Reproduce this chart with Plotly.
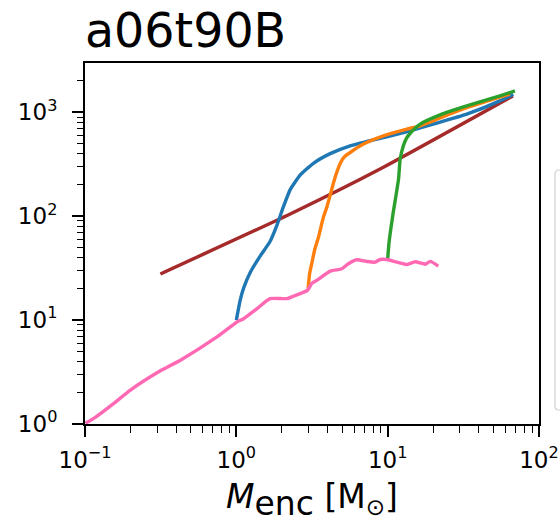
import plotly.graph_objects as go

# ---- data ----
red_x = [0.315, 2.27, 8.91, 67.3]
red_y = [27.8, 105, 284, 1437]

blue_x = [1.00, 1.06, 1.12, 1.24, 1.44, 1.67, 1.85, 2.05, 2.27, 2.64, 3.23, 4.17, 5.65, 7.28, 9.87, 14.1, 20.0, 33.3, 55.2, 67.6]
blue_y = [10.0, 15.5, 20.5, 29.0, 41.5, 57.0, 81.0, 124, 180, 248, 323, 400, 476, 523, 581, 663, 769, 959, 1286, 1492]

orange_x = [2.98, 3.05, 3.15, 3.30, 3.49, 3.76, 3.96, 4.15, 4.35, 4.55, 4.85, 5.15, 5.65, 6.92, 9.37, 13.4, 16.4, 31.5, 64.3]
orange_y = [20.1, 28, 35, 48, 62.7, 97.6, 122, 155, 200, 250, 320, 370, 410, 494, 593, 689, 741, 1079, 1502]

green_x = [10.0, 10.2, 10.5, 10.9, 11.2, 11.8, 12.1, 12.7, 13.3, 14.1, 16.4, 22.2, 33.3, 55.2, 69.3]
green_y = [38.5, 55, 76, 110, 140, 228, 355, 475, 560, 628, 769, 944, 1152, 1437, 1604]

pink_x = [0.1006, 0.117, 0.155, 0.1995, 0.315, 0.427, 0.745, 1.01, 1.116, 1.37, 1.67, 2.16, 2.64, 2.95, 3.15, 3.40,
          4.17, 4.98, 5.50, 6.25, 7.28, 8.26, 8.91, 9.87, 11.5, 13.4, 15.2, 17.7, 19.1, 21.6]
pink_y = [1.016, 1.16, 1.58, 2.12, 3.25, 4.11, 6.88, 9.59, 10.3, 12.9, 16.1, 16.1, 18.0, 19.3, 22.5, 24.1,
          29.6, 31.2, 34.9, 38.1, 36.7, 36.1, 38.3, 38.3, 36.1, 34.3, 36.4, 34.5, 36.7, 33.1]

x_ticks = [0.1, 1, 10, 100]
x_ticktext = ["10<sup>\u22121</sup>", "10<sup>0</sup>", "10<sup>1</sup>", "10<sup>2</sup>"]
y_ticks = [1, 10, 100, 1000]
y_ticktext = ["10<sup>0</sup>", "10<sup>1</sup>", "10<sup>2</sup>", "10<sup>3</sup>"]

title_text = "a06t90B"
xlabel = ("<i>M</i><sub><span style='font-size:33px'>enc</span></sub> [M<sub>\u2299</sub>]")

FONT = "DejaVu Sans"
LW = 3.4
W, H = 560, 523

fig = go.Figure()
series = [
    (red_x, red_y, "#a52a2a"),
    (blue_x, blue_y, "#1f77b4"),
    (orange_x, orange_y, "#ff7f0e"),
    (green_x, green_y, "#2ca02c"),
    (pink_x, pink_y, "#ff69b4"),
]
for xs, ys, c in series:
    fig.add_trace(go.Scatter(x=xs, y=ys, mode="lines",
                             line=dict(color=c, width=LW, shape="spline", smoothing=0.5),
                             showlegend=False, hoverinfo="skip"))

minor_x = [m * 10.0 ** e for e in range(-1, 2) for m in range(2, 10)]
minor_y = [m * 10.0 ** e for e in range(0, 4) for m in range(2, 10)]

axis_common = dict(
    type="log", showline=True, mirror=True, linecolor="black", linewidth=2,
    ticks="outside", ticklen=11, tickwidth=1.8, tickcolor="black",
    showgrid=False, zeroline=False, tickmode="array", automargin=False,
    tickfont=dict(family=FONT, size=23, color="black"),
)
minor_common = dict(tickmode="array", ticks="outside", ticklen=6.5, tickwidth=1.4,
                    tickcolor="black", showgrid=False)

left, right, top, bottom = 84.6, 539, 63, 424

fig.update_layout(
    width=W, height=H,
    margin=dict(l=left, r=W - right, t=top, b=H - bottom, pad=0),
    paper_bgcolor="white", plot_bgcolor="white",
    font=dict(family=FONT, color="black"),
    title=dict(text=title_text, font=dict(family=FONT, size=47.5, color="black"),
               x=85 / W, xanchor="left", xref="container",
               y=1 - 30.5 / H, yanchor="middle", yref="container"),
    xaxis=dict(axis_common, range=[-1, 2], tickvals=x_ticks, ticktext=x_ticktext,
               ticklabelstandoff=3,
               minor=dict(minor_common, tickvals=minor_x),
               title=dict(text=xlabel, font=dict(family=FONT, size=33, color="black"), standoff=18)),
    yaxis=dict(axis_common, range=[0, 3.474], tickvals=y_ticks, ticktext=y_ticktext,
               ticklabelstandoff=10,
               minor=dict(minor_common, tickvals=minor_y)),
)

# partially visible legend frame at the right edge
pw = right - left
ph = bottom - top
x0 = (555 - left) / pw
x1 = (580 - left) / pw
y0 = (bottom - 410) / ph
y1 = (bottom - 170) / ph
r = 4.0 / pw
ry = 4.0 / ph
path = (f"M {x0+r},{y1} L {x1},{y1} L {x1},{y0} L {x0+r},{y0} "
        f"Q {x0},{y0} {x0},{y0+ry} L {x0},{y1-ry} Q {x0},{y1} {x0+r},{y1} Z")
fig.add_shape(type="path", path=path, xref="paper", yref="paper",
              line=dict(color="#d0d0d0", width=1.2), fillcolor="white", layer="above")

# remove the default 8px page margin so the figure fills the window exactly
page_fix = ("document.body.style.margin='0';document.body.style.padding='0';"
            "document.documentElement.style.overflow='hidden';document.body.style.overflow='hidden';")
fig.write_html("out.html", post_script=page_fix, config={"displayModeBar": False})
